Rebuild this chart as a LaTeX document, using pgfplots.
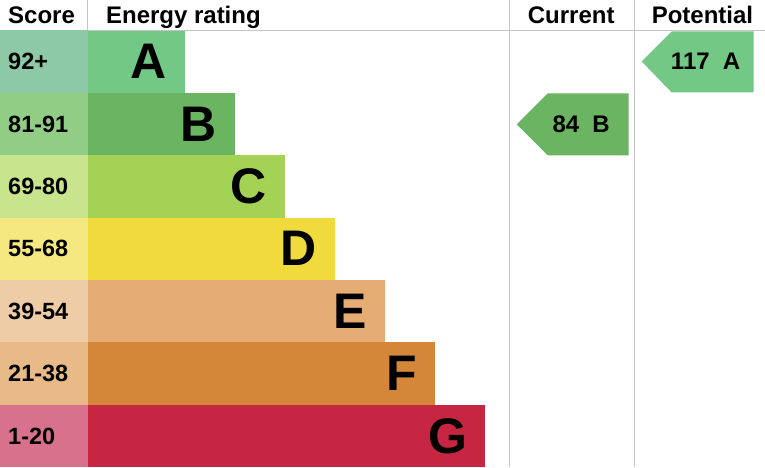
\documentclass[border=0pt]{standalone}
\usepackage{pgfplots}
\pgfplotsset{compat=1.18}
\usepackage{fontspec}
\setmainfont{Liberation Sans}

\definecolor{scA}{HTML}{8DC9A6}\definecolor{brA}{HTML}{72C884}
\definecolor{scB}{HTML}{92CD86}\definecolor{brB}{HTML}{6AB462}
\definecolor{scC}{HTML}{C8E48C}\definecolor{brC}{HTML}{A4D255}
\definecolor{scD}{HTML}{F6E880}\definecolor{brD}{HTML}{F0DA3C}
\definecolor{scE}{HTML}{EDCCA6}\definecolor{brE}{HTML}{E5AC73}
\definecolor{scF}{HTML}{E7BA87}\definecolor{brF}{HTML}{D48639}
\definecolor{scG}{HTML}{D7718C}\definecolor{brG}{HTML}{C62642}
\definecolor{rule}{HTML}{C4C4C4}

\begin{document}
\begin{tikzpicture}
\begin{axis}[
    width=765pt, height=467pt,
    scale only axis,
    hide axis,
    clip=false,
    xmin=0, xmax=765,
    ymin=0, ymax=467,
    y dir=reverse,
]
% background (keeps the page the size of the chart)
\addplot[fill=white, draw=none] coordinates {(0,0) (765,0) (765,467) (0,467)} -- cycle;

% score column
\addplot[fill=scA, draw=none] coordinates {(0,30)    (88,30)    (88,92.4)  (0,92.4)} -- cycle;
\addplot[fill=scB, draw=none] coordinates {(0,92.4)  (88,92.4)  (88,154.9) (0,154.9)} -- cycle;
\addplot[fill=scC, draw=none] coordinates {(0,154.9) (88,154.9) (88,217.3) (0,217.3)} -- cycle;
\addplot[fill=scD, draw=none] coordinates {(0,217.3) (88,217.3) (88,279.7) (0,279.7)} -- cycle;
\addplot[fill=scE, draw=none] coordinates {(0,279.7) (88,279.7) (88,342.1) (0,342.1)} -- cycle;
\addplot[fill=scF, draw=none] coordinates {(0,342.1) (88,342.1) (88,404.6) (0,404.6)} -- cycle;
\addplot[fill=scG, draw=none] coordinates {(0,404.6) (88,404.6) (88,467)   (0,467)} -- cycle;

% rating bars
\addplot[fill=brA, draw=none] coordinates {(88,30)    (185,30)    (185,92.4)  (88,92.4)} -- cycle;
\addplot[fill=brB, draw=none] coordinates {(88,92.4)  (235,92.4)  (235,154.9) (88,154.9)} -- cycle;
\addplot[fill=brC, draw=none] coordinates {(88,154.9) (285,154.9) (285,217.3) (88,217.3)} -- cycle;
\addplot[fill=brD, draw=none] coordinates {(88,217.3) (335,217.3) (335,279.7) (88,279.7)} -- cycle;
\addplot[fill=brE, draw=none] coordinates {(88,279.7) (385,279.7) (385,342.1) (88,342.1)} -- cycle;
\addplot[fill=brF, draw=none] coordinates {(88,342.1) (435,342.1) (435,404.6) (88,404.6)} -- cycle;
\addplot[fill=brG, draw=none] coordinates {(88,404.6) (485,404.6) (485,467)   (88,467)} -- cycle;

% grid lines
\addplot[rule, line width=0.9pt] coordinates {(88,0) (88,30)};
\addplot[rule, line width=0.9pt] coordinates {(510,0) (510,467)};
\addplot[rule, line width=0.9pt] coordinates {(635,0) (635,467)};
\addplot[rule, line width=0.9pt] coordinates {(88,30) (765,30)};

% current and potential arrows
\addplot[fill=brB, draw=none] coordinates {(517,124) (548,93) (629,93) (629,155) (548,155)} -- cycle;
\addplot[fill=brA, draw=none] coordinates {(642,61) (672,31) (754,31) (754,92) (672,92)} -- cycle;

% headers
\begin{scope}[every node/.style={inner sep=0pt, font=\fontsize{24}{28}\selectfont\bfseries}]
\node[anchor=base west] at (axis cs:8,23)   {Score};
\node[anchor=base west] at (axis cs:106,23) {Energy rating};
\node[anchor=base west] at (axis cs:528,23) {Current};
\node[anchor=base west] at (axis cs:652,23) {Potential};
\end{scope}

% score ranges
\begin{scope}[every node/.style={inner sep=0pt, anchor=west, font=\fontsize{23.5}{27}\selectfont\bfseries}]
\node at (axis cs:8,61.2)  {92+};
\node at (axis cs:8,123.6) {81-91};
\node at (axis cs:8,186.1) {69-80};
\node at (axis cs:8,248.5) {55-68};
\node at (axis cs:8,310.9) {39-54};
\node at (axis cs:8,373.3) {21-38};
\node at (axis cs:8,435.8) {1-20};
\end{scope}

% band letters
\begin{scope}[every node/.style={inner sep=0pt, anchor=east, font=\fontsize{50}{56}\selectfont\bfseries}]
\node at (axis cs:167,61.2)  {A};
\node at (axis cs:217,123.6) {B};
\node at (axis cs:267,186.1) {C};
\node at (axis cs:317,248.5) {D};
\node at (axis cs:367,310.9) {E};
\node at (axis cs:417,373.3) {F};
\node at (axis cs:468,435.8) {G};
\end{scope}

% arrow labels
\node[inner sep=0pt, font=\fontsize{24}{28}\selectfont\bfseries] at (axis cs:581.5,124) {84\hspace{0.55em}B};
\node[inner sep=0pt, font=\fontsize{24}{28}\selectfont\bfseries] at (axis cs:706,61) {117\hspace{0.55em}A};
\end{axis}
\end{tikzpicture}
\end{document}
